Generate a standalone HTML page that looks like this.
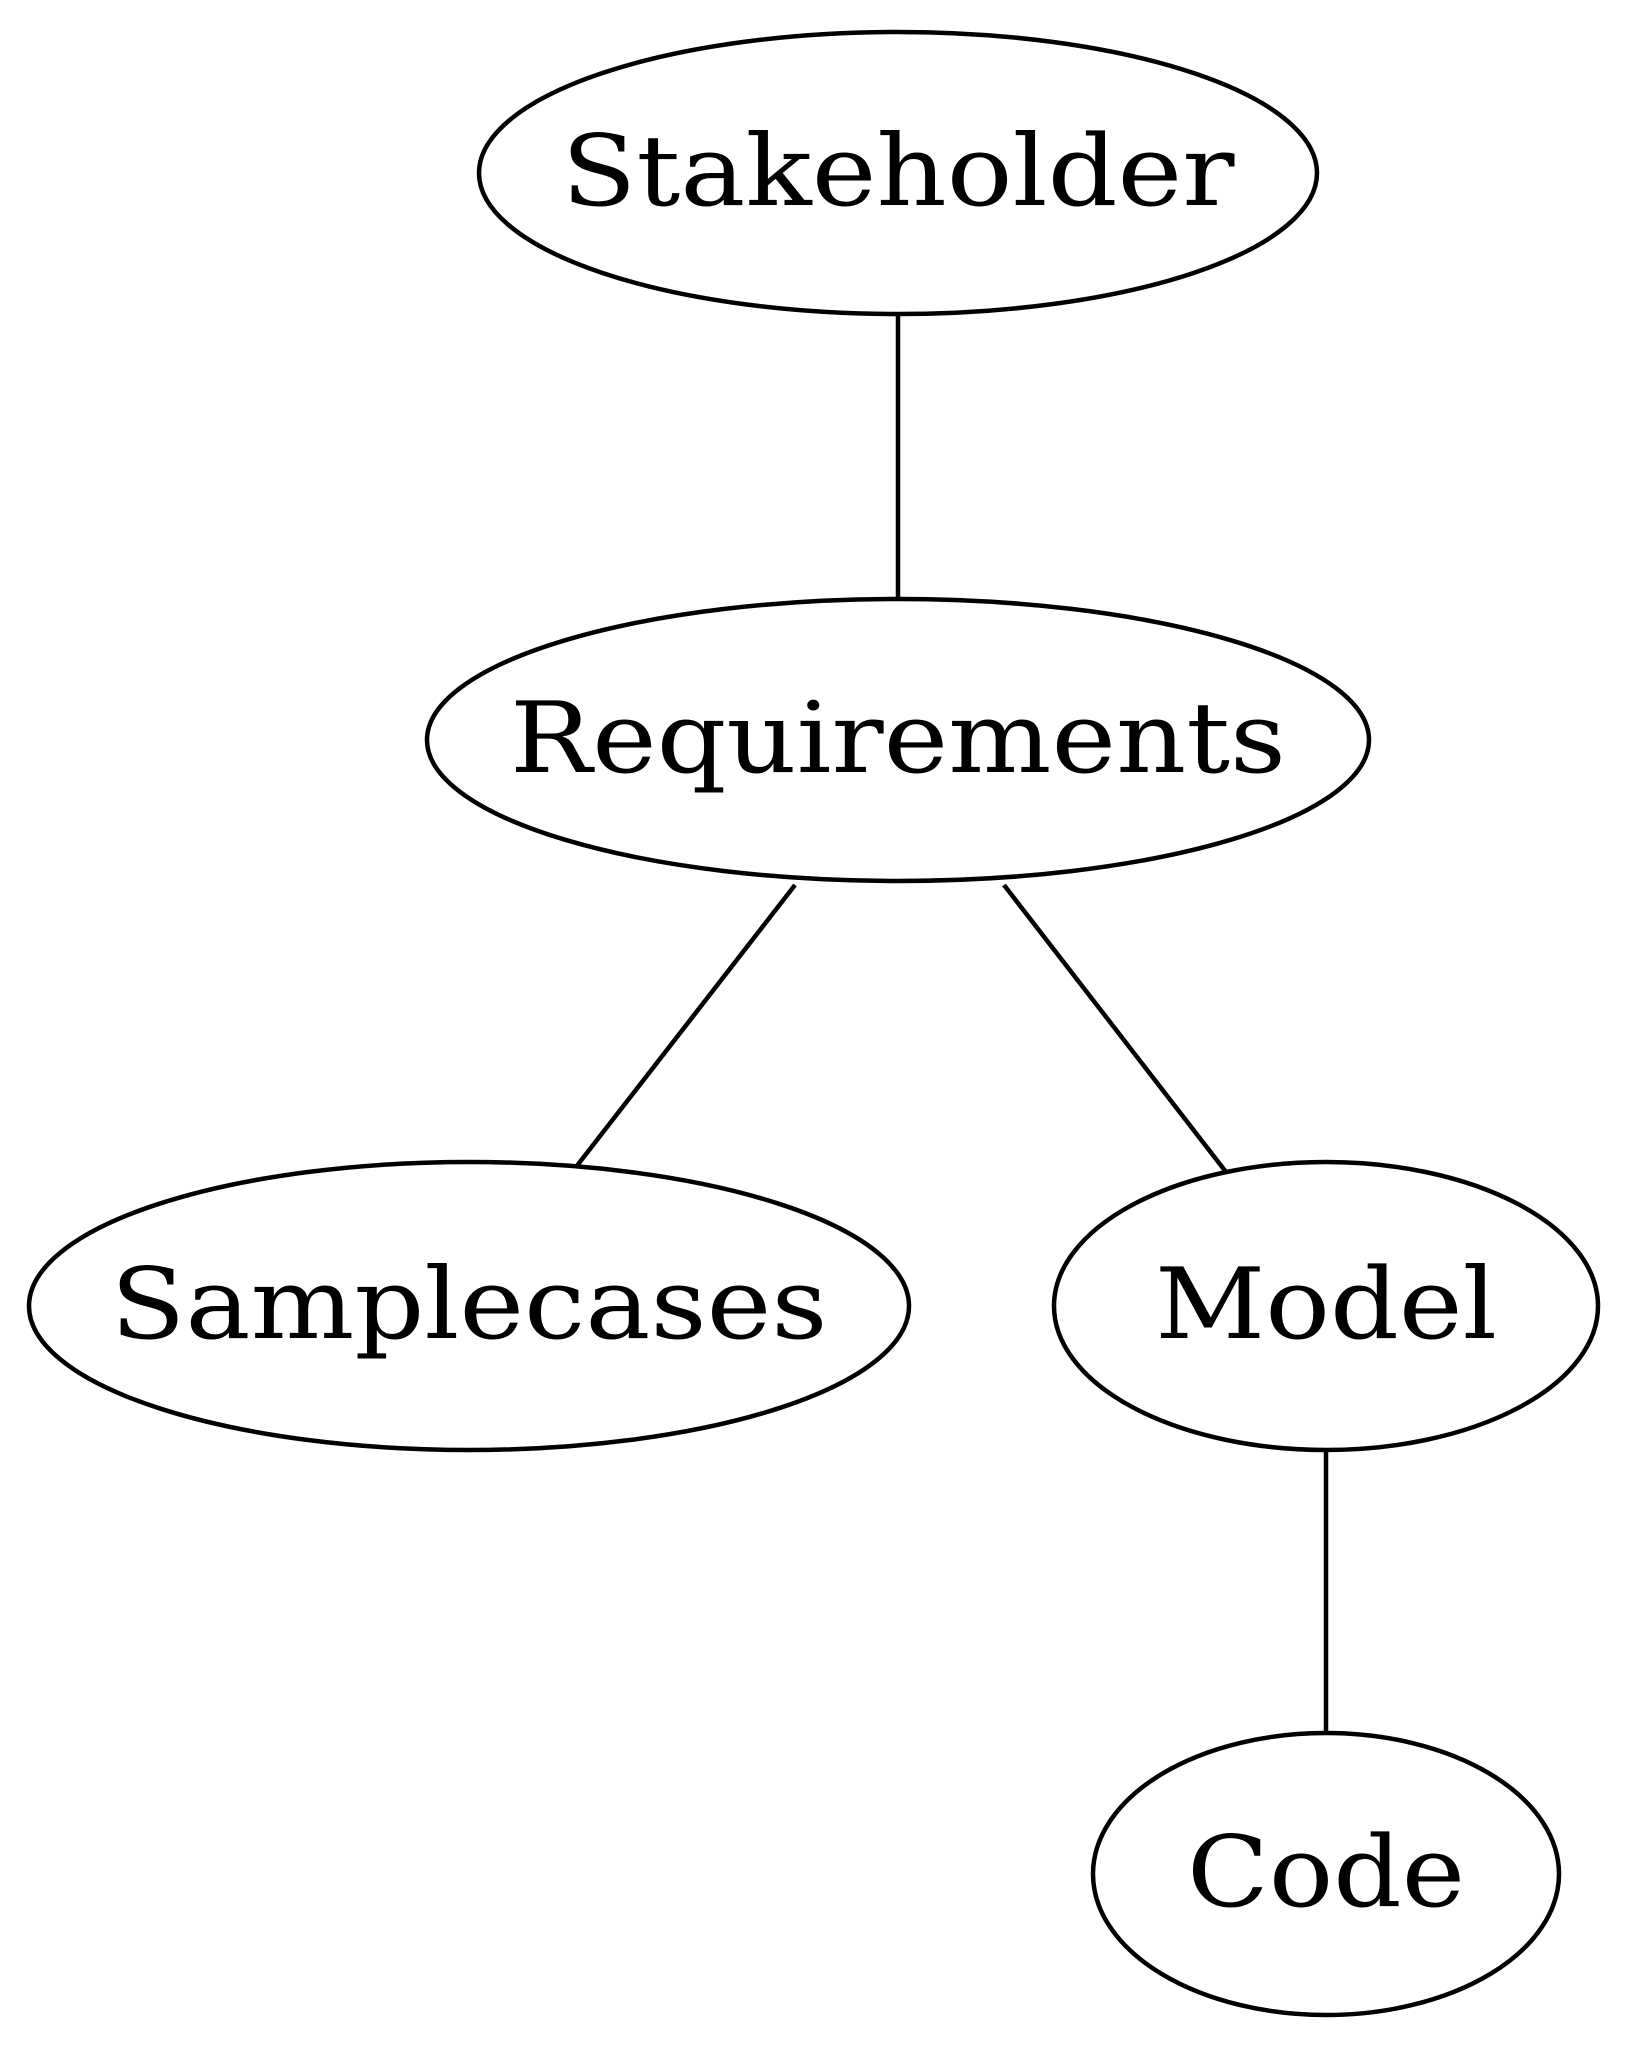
<!DOCTYPE html>
<html><head><meta charset="utf-8"><style>
html,body{margin:0;padding:0;background:#fff;}
svg{display:block;}
text{font-family:"DejaVu Serif","Liberation Serif",serif;font-size:98px;fill:#000;}
</style></head><body>
<svg width="1626" height="2048" viewBox="0 0 1626 2048" xmlns="http://www.w3.org/2000/svg">
<g fill="none" stroke="#000" stroke-width="4.5">
<ellipse cx="898" cy="173" rx="419" ry="141"/>
<ellipse cx="898" cy="740" rx="471" ry="141"/>
<ellipse cx="469" cy="1306" rx="440" ry="144"/>
<ellipse cx="1326" cy="1306" rx="272" ry="144"/>
<ellipse cx="1326" cy="1874" rx="233" ry="141"/>
<line x1="898" y1="314" x2="898" y2="599"/>
<line x1="795" y1="885" x2="576" y2="1167"/>
<line x1="1004" y1="885" x2="1226" y2="1172"/>
<line x1="1326" y1="1450" x2="1326" y2="1733"/>
</g>
<text x="898" y="205" text-anchor="middle" textLength="673" lengthAdjust="spacingAndGlyphs">Stakeholder</text>
<text x="898" y="772" text-anchor="middle" textLength="776" lengthAdjust="spacingAndGlyphs">Requirements</text>
<text x="469" y="1338" text-anchor="middle" textLength="717" lengthAdjust="spacingAndGlyphs">Samplecases</text>
<text x="1326" y="1338" text-anchor="middle" textLength="342" lengthAdjust="spacingAndGlyphs">Model</text>
<text x="1326" y="1906" text-anchor="middle" textLength="278" lengthAdjust="spacingAndGlyphs">Code</text>
</svg>
</body></html>
